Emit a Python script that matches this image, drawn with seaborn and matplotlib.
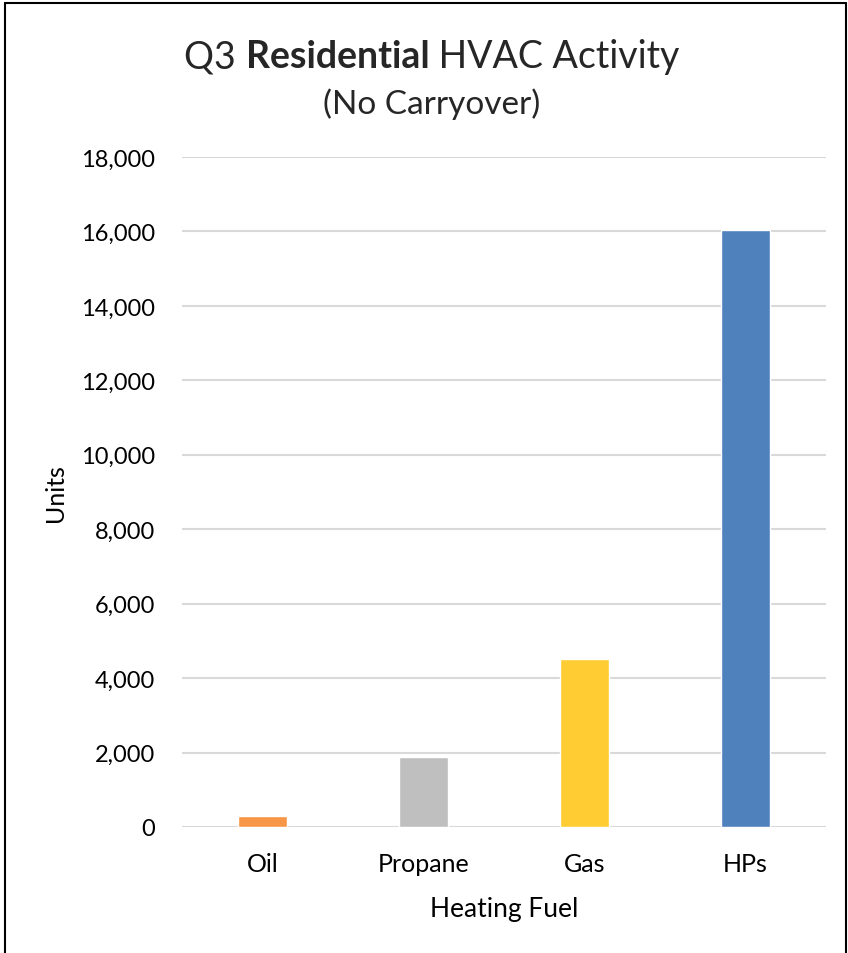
import matplotlib
matplotlib.use("Agg")
import matplotlib.pyplot as plt
from matplotlib.lines import Line2D
from matplotlib.ticker import FuncFormatter
import seaborn as sns
import pandas as pd

fuels = ["Oil", "Propane", "Gas", "HPs"]
units = [290, 1870, 4500, 16030]
colors = ["#F79646", "#BFBFBF", "#FFCC33", "#4F81BD"]

df = pd.DataFrame({"fuel": fuels, "units": units})

sns.set_theme(style="white")
plt.rcParams["font.family"] = ["Lato", "DejaVu Sans"]

fig = plt.figure(figsize=(8.48, 9.54), dpi=100)
ax = fig.add_axes([0.2146, 0.1321, 0.974 - 0.2146, 0.8344 - 0.1321])

sns.barplot(
    data=df,
    x="fuel",
    y="units",
    hue="fuel",
    palette=colors,
    width=0.31,
    saturation=1,
    legend=False,
    ax=ax
)

ax.set_ylim(0, 18000)
ax.set_xlim(-0.5, 3.5)
ax.set_yticks(range(0, 18001, 2000))
ax.yaxis.set_major_formatter(FuncFormatter(lambda v, p: f"{int(v):,}"))
ax.grid(axis="y", color="#D9D9D9", linewidth=1.5)
ax.set_axisbelow(True)
for s in ax.spines.values():
    s.set_visible(False)
ax.tick_params(axis="y", length=0, pad=19.4, labelsize=17, labelcolor="black")
ax.tick_params(axis="x", length=0, pad=18, labelsize=18, labelcolor="black")

ax.set_xlabel("Heating Fuel", fontsize=19, color="black", labelpad=15)
ax.set_ylabel("Units", fontsize=18, color="black")
ax.yaxis.set_label_coords(-0.1786, 0.5)

# title with a bold middle word
fig.canvas.draw()
r = fig.canvas.get_renderer()
parts = [("Q3 ", "normal"), ("Residential", "bold"), (" HVAC Activity", "normal")]
texts = []
for s, w in parts:
    t = fig.text(0, 1 - 57 / 954, s, fontsize=27, fontweight=w, va="center", ha="left")
    texts.append(t)
widths = [t.get_window_extent(r).width for t in texts]
x = 432 - sum(widths) / 2
for t, wd in zip(texts, widths):
    t.set_x(x / 848)
    x += wd
fig.text(432 / 848, 1 - 104 / 954, "(No Carryover)", fontsize=24, ha="center", va="center")

# chart border (left, top, right)
for xs, ys in [([0.006, 0.006], [0, 0.996]), ([0.006, 0.998], [0.996, 0.996]), ([0.998, 0.998], [0.996, 0])]:
    fig.add_artist(Line2D(xs, ys, color="black", linewidth=1.5, transform=fig.transFigure))

fig.savefig("out.png", dpi=100)
